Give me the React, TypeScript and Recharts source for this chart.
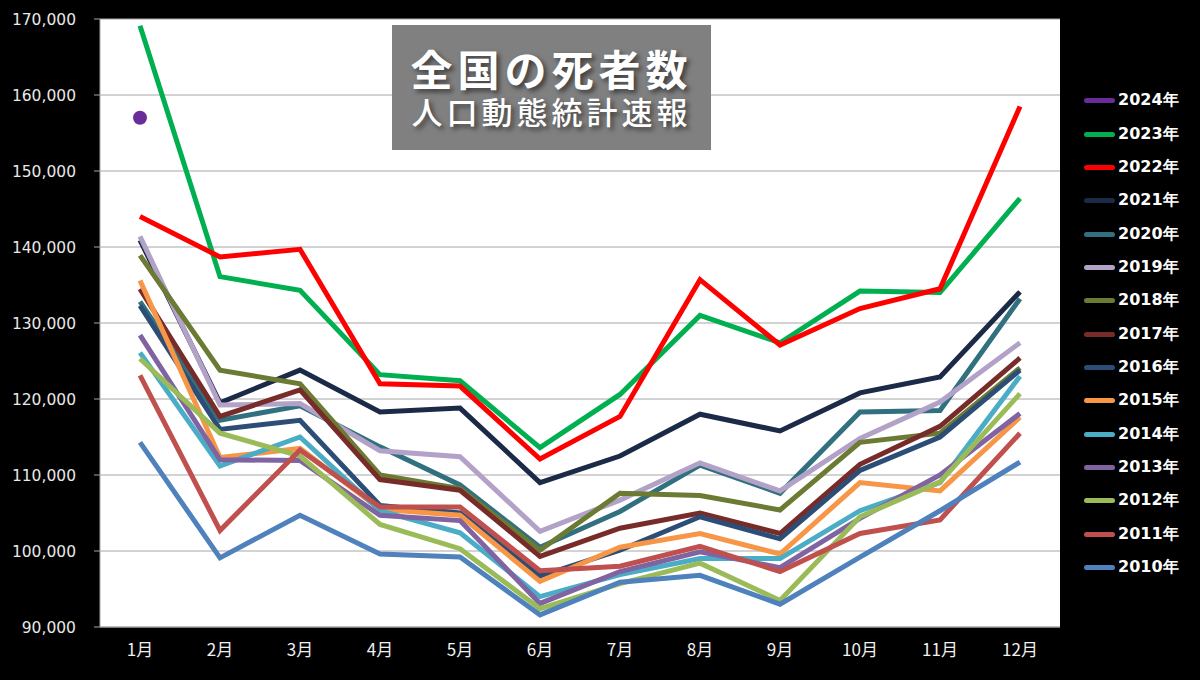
import React from "react";
import { LineChart, Line, XAxis, YAxis, CartesianGrid } from "recharts";

const months = ["1月", "2月", "3月", "4月", "5月", "6月", "7月", "8月", "9月", "10月", "11月", "12月"];

const years = ["2024年", "2023年", "2022年", "2021年", "2020年", "2019年", "2018年", "2017年", "2016年", "2015年", "2014年", "2013年", "2012年", "2011年", "2010年"];

const colors = ["#6a2c9a", "#00b050", "#ff0000", "#1b2a47", "#31707f", "#b3a2c7", "#6b7b34", "#772c2a", "#2c4d75", "#f79646", "#4bacc6", "#8064a2", "#9bbb59", "#c0504d", "#4f81bd"];

const y2024 = [157000, null, null, null, null, null, null, null, null, null, null, null];
const y2023 = [169100, 136100, 134300, 123200, 122400, 113600, 120600, 131000, 127400, 134200, 134000, 146400];
const y2022 = [144000, 138700, 139700, 122000, 121700, 112100, 117700, 135700, 127100, 131900, 134500, 158500];
const y2021 = [140900, 119500, 123800, 118300, 118800, 109000, 112500, 118000, 115800, 120800, 122900, 134100];
const y2020 = [132800, 117200, 119100, 113700, 108700, 100500, 105200, 111300, 107600, 118300, 118500, 133200];
const y2019 = [141400, 119200, 119400, 113200, 112400, 102600, 106700, 111600, 107900, 114800, 119600, 127400];
const y2018 = [138900, 123800, 122000, 110000, 108200, 100100, 107600, 107300, 105400, 114300, 115500, 124100];
const y2017 = [134500, 117700, 121200, 109400, 108000, 99300, 103000, 105000, 102300, 111400, 116400, 125400];
const y2016 = [132300, 116000, 117200, 106000, 105000, 96700, 100100, 104500, 101600, 110600, 115000, 123800];
const y2015 = [135600, 112300, 113500, 105500, 104700, 96000, 100500, 102300, 99600, 109000, 107900, 117600];
const y2014 = [126100, 111200, 115000, 105300, 102400, 94000, 96900, 99000, 99000, 105300, 109000, 123000];
const y2013 = [128400, 112000, 111900, 104700, 104000, 93100, 97300, 99900, 97800, 104300, 110000, 118100];
const y2012 = [125300, 115500, 112500, 103500, 100300, 92400, 95700, 98400, 93500, 104500, 109100, 120700];
const y2011 = [123100, 102700, 113300, 105800, 105800, 97400, 98000, 100600, 97300, 102300, 104100, 115500];
const y2010 = [114300, 99100, 104700, 99600, 99200, 91600, 95900, 96800, 93000, 99200, 105300, 111700];

const series = [y2024, y2023, y2022, y2021, y2020, y2019, y2018, y2017, y2016, y2015, y2014, y2013, y2012, y2011, y2010];

const yTicks = [90000, 100000, 110000, 120000, 130000, 140000, 150000, 160000, 170000];
// band edges for the small tick marks under the month axis
const bandEdges = [0, 1, 2, 3, 4, 5, 6, 7, 8, 9, 10, 11, 12];

const data = months.map((m, i) => {
  const row: Record<string, any> = { month: m };
  years.forEach((y, s) => {
    row[y] = series[s][i];
  });
  return row;
});

export default function App() {
  return (
    <div style={{ position: "absolute", left: 0, top: 0, width: 1200, height: 680, background: "#000", overflow: "hidden" }}>
      <LineChart width={1200} height={680} data={data} margin={{ top: 19, right: 140, bottom: 0, left: 0 }}>
        <CartesianGrid fill="#ffffff" stroke="#a6a6a6" vertical={false} />
        <XAxis
          dataKey="month"
          height={53}
          padding={{ left: 40, right: 40 }}
          stroke="#a6a6a6"
          tickLine={false}
          tickMargin={11}
          tick={{ fill: "#f0f0f0", fontSize: 17, fontFamily: "Noto Sans CJK JP" }}
        />
        <XAxis
          xAxisId="edges"
          type="number"
          domain={[0, 12]}
          ticks={bandEdges}
          height={0}
          axisLine={false}
          tickSize={5}
          stroke="#a6a6a6"
          tick={false}
          allowDataOverflow
        />
        <YAxis
          domain={[90000, 170000]}
          ticks={yTicks}
          width={100}
          stroke="#a6a6a6"
          tickSize={6}
          tickMargin={18}
          tickFormatter={(v) => v.toLocaleString("en-US")}
          tick={{ fill: "#e8e8e8", fontSize: 15.5, fontFamily: "DejaVu Sans" }}
        />
        {years.map((y, i) => (
          <Line
            key={y}
            dataKey={y}
            stroke={colors[i]}
            strokeWidth={i === 0 ? 0 : 5}
            dot={i === 0 ? { r: 7, fill: colors[0], stroke: "none" } : false}
            activeDot={false}
            isAnimationActive={false}
          />
        ))}
      </LineChart>

      <div
        style={{
          position: "absolute",
          left: 392,
          top: 25,
          width: 319,
          height: 125,
          background: "#808080",
          color: "#fff",
          fontFamily: "Noto Sans CJK JP",
          textShadow: "3px 3px 5px rgba(0,0,0,0.55)",
        }}
      >
        <div style={{ position: "absolute", left: 0, width: 319, top: 22, textAlign: "center", fontSize: 42, fontWeight: 700, lineHeight: "42px", letterSpacing: 5 }}>全国の死者数</div>
        <div style={{ position: "absolute", left: 0, width: 319, top: 70, textAlign: "center", fontSize: 31, fontWeight: 500, lineHeight: "31px", letterSpacing: 4 }}>人口動態統計速報</div>
      </div>

      <div style={{ position: "absolute", left: 1084, top: 84 }}>
        {years.map((y, i) => (
          <div key={y} style={{ display: "flex", alignItems: "center", height: 33.36 }}>
            <div style={{ width: 31, height: 5, borderRadius: 3, background: colors[i], marginRight: 3 }} />
            <span style={{ color: "#fff", fontSize: 16, fontWeight: 700, fontFamily: "DejaVu Sans" }}>{y}</span>
          </div>
        ))}
      </div>
    </div>
  );
}
